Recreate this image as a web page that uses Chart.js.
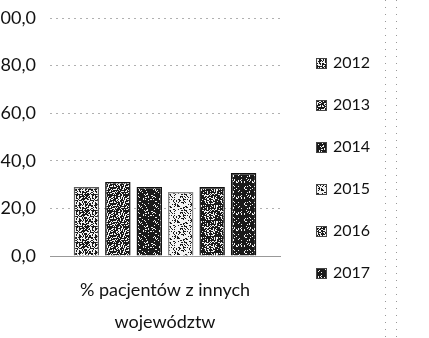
<!DOCTYPE html>
<html>
<head>
<meta charset="utf-8">
<script src="https://cdn.jsdelivr.net/npm/chart.js@4"></script>
<style>
  html, body { margin: 0; padding: 0; background: #fff; overflow: hidden; }
  #wrap { position: absolute; left: -20px; top: 0; width: 449px; height: 338px; }
</style>
</head>
<body>
<div id="wrap"><canvas id="chart"></canvas></div>
<script>
// Data
const categories = [['% pacjentów z innych', 'województw']];
const years = ['2012', '2013', '2014', '2015', '2016', '2017'];
const values = [29.0, 31.1, 29.0, 26.9, 29.0, 34.9];
const yTicks = [0, 20, 40, 60, 80, 100];

// share of dark dots in each bar's scanned dither, and its outline
const darkness = [0.5, 0.66, 0.82, 0.25, 0.74, 0.87];
const outlines = ['#5a5a5a', '#111', '#111', '#8a8a8a', '#111', '#111'];

// fixed hash so the dither is the same on every run
function hash(x, y, k) {
    const s = Math.sin(x * 12.9898 + y * 78.233 + k * 37.719) * 43758.5453;
    return s - Math.floor(s);
}

function makeDither(level, k) {
    const n = 16;
    const c = document.createElement('canvas');
    c.width = n;
    c.height = n;
    const g = c.getContext('2d');
    g.fillStyle = '#f2f2f2';
    g.fillRect(0, 0, n, n);
    g.fillStyle = '#1a1a1a';
    for (let y = 0; y < n; y++) {
        for (let x = 0; x < n; x++) {
            if (hash(x, y, k) < level) g.fillRect(x, y, 1, 1);
        }
    }
    return g.createPattern(c, 'repeat');
}

const datasets = years.map((y, i) => ({
    label: y,
    data: [values[i]],
    backgroundColor: makeDither(darkness[i], i + 1),
    borderColor: outlines[i],
    borderWidth: 1.5,
    categoryPercentage: 0.82,
    barPercentage: 0.81
}));

// legend drawn by hand to sit where the scan has it
const sideLegend = {
    id: 'sideLegend',
    afterDraw(chart) {
        const ctx = chart.ctx;
        ctx.save();
        ctx.font = '16px Lato';
        ctx.textBaseline = 'middle';
        ctx.textAlign = 'left';
        chart.data.datasets.forEach((ds, i) => {
            const y = 63 + i * 42;
            ctx.fillStyle = ds.backgroundColor;
            ctx.fillRect(336, y - 5, 11, 11);
            ctx.strokeStyle = '#444';
            ctx.lineWidth = 1;
            ctx.strokeRect(336.5, y - 4.5, 10, 10);
            ctx.fillStyle = '#111';
            ctx.fillText(ds.label, 353, y);
        });
        // faint dotted edges of the scanned page
        ctx.strokeStyle = '#999';
        ctx.setLineDash([1, 6]);
        ctx.beginPath();
        ctx.moveTo(405.5, 0);
        ctx.lineTo(405.5, 338);
        ctx.moveTo(416.5, 0);
        ctx.lineTo(416.5, 338);
        ctx.stroke();
        ctx.restore();
    }
};

new Chart(document.getElementById('chart'), {
    type: 'bar',
    data: { labels: categories, datasets: datasets },
    options: {
        responsive: true,
        maintainAspectRatio: false,
        animation: false,
        layout: { padding: { top: 18, right: 149, left: 0, bottom: 0 } },
        plugins: {
            legend: { display: false },
            tooltip: { enabled: false }
        },
        scales: {
            x: {
                grid: { display: false },
                border: { color: '#999', dash: [2, 4] },
                ticks: {
                    color: '#111',
                    font: { family: 'Lato', size: 18, lineHeight: 1.8 },
                    padding: 10
                },
                afterFit(scale) { scale.height = 82; }
            },
            y: {
                min: 0,
                max: 100,
                afterBuildTicks(scale) { scale.ticks = yTicks.map(v => ({ value: v })); },
                border: { display: false, dash: [2, 4] },
                grid: { color: '#b0b0b0', drawTicks: false, lineWidth: 1 },
                ticks: {
                    color: '#111',
                    padding: 14,
                    font: { family: 'Lato', size: 18 },
                    callback: v => v.toFixed(1).replace('.', ',')
                },
                afterFit(scale) {
                    scale.width = 70;
                    scale.paddingTop = 0;
                    scale.paddingBottom = 0;
                }
            }
        }
    },
    plugins: [sideLegend]
});
</script>
</body>
</html>
